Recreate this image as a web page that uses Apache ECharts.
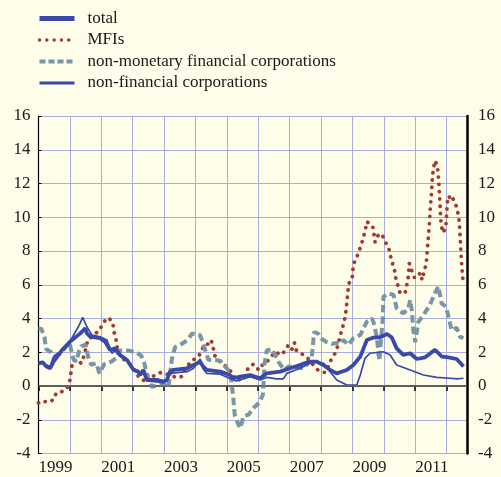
<!DOCTYPE html>
<html>
<head>
<meta charset="utf-8">
<script src="https://cdn.jsdelivr.net/npm/echarts@6/dist/echarts.min.js"></script>
<style>
  html, body { margin: 0; padding: 0; background: #fefde9; }
  #chart { width: 501px; height: 477px; }
</style>
</head>
<body>
<div id="chart"></div>
<script>
// [year, % change]
const seriesNames = ['total', 'MFIs', 'non-monetary financial corporations', 'non-financial corporations']

const total = [
  [1999.0, 1.35], [1999.14, 1.4], [1999.25, 1.15], [1999.37, 1.05], [1999.48, 1.44], [1999.75, 2.13],
  [2000.01, 2.63], [2000.33, 3.12], [2000.49, 3.42], [2000.54, 3.12], [2000.65, 2.92], [2000.96, 2.83],
  [2001.12, 2.63], [2001.28, 2.13], [2001.44, 2.23], [2001.6, 1.84], [2001.82, 1.54], [2002.03, 0.95],
  [2002.18, 0.85], [2002.24, 0.65], [2002.34, 0.95], [2002.45, 0.36], [2002.77, 0.36], [2002.98, 0.26],
  [2003.09, 0.36], [2003.19, 0.85], [2003.3, 0.95], [2003.73, 1.05], [2003.94, 1.24], [2004.15, 1.44],
  [2004.25, 1.14], [2004.36, 0.95], [2004.79, 0.85], [2005.1, 0.65], [2005.21, 0.46], [2005.42, 0.55],
  [2005.74, 0.65], [2006.06, 0.46], [2006.27, 0.75], [2006.7, 0.85], [2007.01, 1.05], [2007.33, 1.24],
  [2007.6, 1.44], [2007.87, 1.44], [2008.08, 1.24], [2008.29, 0.95], [2008.5, 0.75], [2008.82, 0.95],
  [2009.03, 1.24], [2009.25, 1.74], [2009.46, 2.73], [2009.67, 2.87], [2009.88, 2.89], [2010.1, 3.08],
  [2010.25, 2.89], [2010.41, 2.23], [2010.62, 1.84], [2010.84, 1.94], [2011.05, 1.6], [2011.32, 1.7],
  [2011.63, 2.15], [2011.85, 1.74], [2012.06, 1.7], [2012.32, 1.6], [2012.54, 1.15]
]

const mfis = [
  [1999.0, -1.0], [1999.08, -0.89], [1999.33, -0.95], [1999.48, -0.81], [1999.56, -0.43], [1999.69, -0.39],
  [1999.9, -0.16], [1999.99, 0.22], [2000.02, 0.59], [2000.06, 1.15], [2000.1, 1.54], [2000.27, 1.5],
  [2000.36, 1.34], [2000.45, 1.78], [2000.57, 2.73], [2000.76, 3.0], [2000.96, 3.36], [2001.07, 3.79],
  [2001.24, 4.05], [2001.37, 3.71], [2001.4, 3.24], [2001.47, 2.77], [2001.5, 2.33], [2001.58, 1.84],
  [2001.74, 1.54], [2001.95, 1.24], [2002.07, 0.91], [2002.22, 0.45], [2002.38, 0.31], [2002.5, 0.71],
  [2002.66, 0.59], [2002.88, 0.79], [2003.1, 0.7], [2003.4, 0.5], [2003.55, 0.55], [2003.7, 1.1],
  [2003.89, 1.5], [2004.1, 1.74], [2004.2, 2.13], [2004.29, 2.45], [2004.41, 2.49], [2004.49, 2.73],
  [2004.55, 2.47], [2004.6, 1.84], [2004.75, 1.5], [2005.08, 0.99], [2005.32, 0.3], [2005.42, 0.4],
  [2005.61, 0.59], [2005.67, 1.05], [2005.85, 1.3], [2005.96, 1.05], [2006.03, 0.95], [2006.15, 1.3],
  [2006.31, 1.5], [2006.41, 1.74], [2006.56, 2.03], [2006.7, 1.84], [2006.83, 2.03], [2006.96, 2.43],
  [2007.07, 2.17], [2007.15, 2.57], [2007.21, 2.13], [2007.39, 1.9], [2007.55, 1.7], [2007.68, 1.44],
  [2007.76, 1.24], [2007.9, 0.95], [2008.08, 0.81], [2008.15, 0.81], [2008.34, 1.64], [2008.48, 2.03],
  [2008.58, 2.73], [2008.66, 3.32], [2008.74, 3.81], [2008.8, 4.5], [2008.86, 5.65], [2008.89, 6.09],
  [2008.99, 6.34], [2009.01, 6.81], [2009.04, 7.27], [2009.12, 7.53], [2009.19, 7.9], [2009.28, 8.36],
  [2009.35, 8.79], [2009.41, 9.24], [2009.46, 9.74], [2009.51, 9.78], [2009.65, 9.44], [2009.69, 8.97],
  [2009.72, 8.53], [2009.83, 8.97], [2009.94, 9.0], [2009.99, 9.05], [2010.03, 8.57], [2010.15, 8.25],
  [2010.2, 7.78], [2010.27, 7.31], [2010.34, 6.87], [2010.38, 6.4], [2010.45, 5.94], [2010.52, 5.49],
  [2010.68, 5.53], [2010.73, 5.99], [2010.78, 6.48], [2010.81, 7.27], [2010.89, 6.83], [2010.97, 6.44],
  [2011.08, 6.44], [2011.16, 6.71], [2011.22, 6.28], [2011.28, 6.77], [2011.35, 7.23], [2011.41, 8.61],
  [2011.45, 9.56], [2011.48, 10.5], [2011.52, 11.46], [2011.55, 12.4], [2011.58, 12.88], [2011.63, 13.35],
  [2011.71, 13.04], [2011.75, 12.1], [2011.78, 11.14], [2011.82, 9.72], [2011.86, 9.24], [2011.9, 9.08],
  [2011.98, 9.54], [2012.01, 10.47], [2012.03, 10.98], [2012.08, 11.26], [2012.12, 10.98], [2012.2, 11.1],
  [2012.25, 10.98], [2012.33, 10.53], [2012.38, 10.07], [2012.41, 9.6], [2012.45, 8.18], [2012.48, 7.23],
  [2012.52, 6.28]
]

const nonMonetary = [
  [1999.0, 3.4], [1999.09, 3.4], [1999.19, 2.9], [1999.24, 2.2], [1999.4, 2.0], [1999.51, 1.75],
  [1999.72, 1.95], [1999.88, 2.35], [1999.99, 2.55], [2000.1, 1.65], [2000.2, 1.45], [2000.29, 2.05],
  [2000.36, 2.35], [2000.5, 2.45], [2000.58, 1.75], [2000.68, 1.25], [2000.84, 1.35], [2000.94, 0.75],
  [2001.1, 1.3], [2001.32, 1.45], [2001.47, 1.65], [2001.58, 2.1], [2001.85, 2.1], [2002.11, 2.0],
  [2002.27, 1.8], [2002.38, 1.3], [2002.45, 0.65], [2002.61, -0.05], [2002.82, 0.05], [2002.98, 0.15],
  [2003.14, -0.1], [2003.25, 1.6], [2003.35, 2.3], [2003.57, 2.5], [2003.73, 2.7], [2003.89, 3.1],
  [2004.04, 3.1], [2004.15, 3.0], [2004.25, 2.5], [2004.41, 1.55], [2004.57, 1.55], [2004.79, 1.5],
  [2004.89, 1.25], [2005.1, 0.85], [2005.14, 0.35], [2005.2, -0.6], [2005.25, -1.7], [2005.37, -2.3],
  [2005.43, -2.5], [2005.53, -1.8], [2005.69, -1.7], [2005.85, -1.3], [2006.05, -0.95], [2006.15, -0.5],
  [2006.2, 1.3], [2006.27, 2.1], [2006.43, 2.2], [2006.59, 1.65], [2006.64, 1.45], [2006.75, 1.15],
  [2006.83, 0.95], [2006.96, 1.15], [2007.12, 1.15], [2007.44, 1.05], [2007.7, 1.6], [2007.75, 2.6],
  [2007.78, 3.2], [2007.91, 3.1], [2008.02, 2.8], [2008.18, 2.6], [2008.36, 2.5], [2008.5, 2.55],
  [2008.61, 2.5], [2008.71, 2.73], [2008.87, 2.43], [2009.03, 2.83], [2009.25, 3.02], [2009.46, 3.81],
  [2009.62, 4.0], [2009.67, 3.8], [2009.78, 2.9], [2009.83, 1.9], [2009.86, 1.5], [2009.9, 2.5],
  [2009.97, 4.1], [2009.99, 5.3], [2010.15, 5.5], [2010.31, 5.4], [2010.41, 4.6], [2010.62, 4.3],
  [2010.78, 4.6], [2010.84, 5.1], [2010.89, 4.5], [2010.94, 3.3], [2011.0, 2.6], [2011.1, 3.8],
  [2011.26, 4.2], [2011.47, 4.8], [2011.63, 5.5], [2011.74, 5.9], [2011.84, 4.9], [2011.98, 4.7],
  [2012.06, 4.1], [2012.16, 3.3], [2012.32, 3.45], [2012.43, 2.9], [2012.54, 2.85]
]

const nonFinancial = [
  [1999.0, 1.3], [1999.14, 1.35], [1999.37, 1.15], [1999.48, 1.74], [1999.75, 2.13], [2000.06, 2.83],
  [2000.27, 3.51], [2000.41, 4.07], [2000.54, 3.51], [2000.7, 3.02], [2000.96, 2.92], [2001.18, 2.73],
  [2001.34, 1.94], [2001.44, 2.1], [2001.6, 1.75], [2001.82, 1.5], [2002.03, 1.0], [2002.24, 0.75],
  [2002.34, 0.9], [2002.45, 0.3], [2002.98, 0.2], [2003.09, 0.4], [2003.19, 0.75], [2003.73, 0.85],
  [2003.94, 1.05], [2004.15, 1.6], [2004.25, 1.0], [2004.36, 0.75], [2004.79, 0.7], [2005.1, 0.45],
  [2005.3, 0.3], [2005.58, 0.45], [2005.74, 0.55], [2006.06, 0.36], [2006.27, 0.51], [2006.59, 0.42],
  [2006.8, 0.42], [2006.91, 0.75], [2007.33, 1.05], [2007.76, 1.44], [2008.08, 1.34], [2008.5, 0.36],
  [2008.82, 0.06], [2009.14, 0.06], [2009.25, 0.65], [2009.4, 1.64], [2009.56, 1.94], [2009.99, 2.03],
  [2010.2, 1.84], [2010.41, 1.24], [2010.84, 0.95], [2011.26, 0.65], [2011.69, 0.51], [2012.11, 0.46],
  [2012.33, 0.42], [2012.54, 0.46]
]

const blue = '#3a48a8'
const red = '#a23a30'
const greyBlue = '#7896a8'
const gridColor = '#a9acdf'
const font = 'Liberation Serif'

const dotted = [0.1, 7.2]
const dashed = [7.5, 4]

const chart = echarts.init(document.getElementById('chart'))

const option = {
  backgroundColor: '#fefde9',
  animation: false,
  textStyle: { fontFamily: font },
  legend: {
    orient: 'vertical',
    left: 37,
    top: 10,
    padding: 0,
    itemWidth: 35,
    itemHeight: 14,
    itemGap: 4.5,
    itemStyle: { opacity: 0 },
    data: [
      { name: seriesNames[0], lineStyle: { color: blue, width: 5, type: 'solid' } },
      { name: seriesNames[1], lineStyle: { color: red, width: 3.4, type: dotted, cap: 'round' } },
      { name: seriesNames[2], lineStyle: { color: greyBlue, width: 4, type: [6, 3] } },
      { name: seriesNames[3], lineStyle: { color: blue, width: 3, type: 'solid' } }
    ],
    textStyle: { fontFamily: font, fontSize: 17, color: '#1a1a1a', padding: [0, 0, 0, 8], lineHeight: 17 }
  },
  grid: { left: 38.5, right: 34, top: 116, bottom: 23.5 },
  xAxis: {
    type: 'value',
    min: 1999,
    max: 2012.65,
    interval: 1,
    axisLine: { lineStyle: { color: '#000', width: 1.5 } },
    axisTick: { show: true, length: 5, lineStyle: { color: '#000', width: 1.5 } },
    axisLabel: {
      align: 'left',
      margin: 6,
      fontFamily: font,
      fontSize: 17,
      color: '#1a1a1a',
      showMaxLabel: false,
      formatter: v => {
        const r = Math.round(v)
        return Math.abs(v - r) < 1e-6 && r % 2 === 1 ? String(r) : ''
      }
    },
    splitLine: { show: true, lineStyle: { color: gridColor, width: 1 } }
  },
  yAxis: [
    {
      type: 'value',
      min: -4,
      max: 16,
      interval: 2,
      position: 'left',
      axisLine: { show: true, lineStyle: { color: '#000', width: 1.2 } },
      axisTick: { show: true, inside: true, length: 3, lineStyle: { color: '#000' } },
      axisLabel: { margin: 8, fontFamily: font, fontSize: 17, color: '#1a1a1a' },
      splitLine: { show: true, lineStyle: { color: gridColor, width: 1 } }
    },
    {
      type: 'value',
      min: -4,
      max: 16,
      interval: 2,
      position: 'right',
      axisLine: { show: true, lineStyle: { color: '#000', width: 2.5 } },
      axisTick: { show: false },
      axisLabel: { margin: 11, fontFamily: font, fontSize: 17, color: '#1a1a1a' },
      splitLine: { show: false }
    }
  ],
  series: [
    {
      name: 'MFIs',
      type: 'line',
      data: mfis,
      symbol: 'none',
      z: 2,
      lineStyle: { color: red, width: 3.8, type: dotted, cap: 'round' },
      itemStyle: { color: red },
      markLine: {
        silent: true,
        symbol: 'none',
        label: { show: false },
        lineStyle: { color: '#6e6e6e', width: 1.5, type: 'solid' },
        data: [{ yAxis: 0 }]
      }
    },
    {
      name: 'non-monetary financial corporations',
      type: 'line',
      data: nonMonetary,
      symbol: 'none',
      z: 3,
      lineStyle: { color: greyBlue, width: 4, type: dashed },
      itemStyle: { color: greyBlue }
    },
    {
      name: 'non-financial corporations',
      type: 'line',
      data: nonFinancial,
      symbol: 'none',
      z: 4,
      lineStyle: { color: blue, width: 1.7 },
      itemStyle: { color: blue }
    },
    {
      name: 'total',
      type: 'line',
      data: total,
      symbol: 'none',
      z: 5,
      lineStyle: { color: blue, width: 3.8 },
      itemStyle: { color: blue }
    }
  ]
}

chart.setOption(option)
</script>
</body>
</html>
